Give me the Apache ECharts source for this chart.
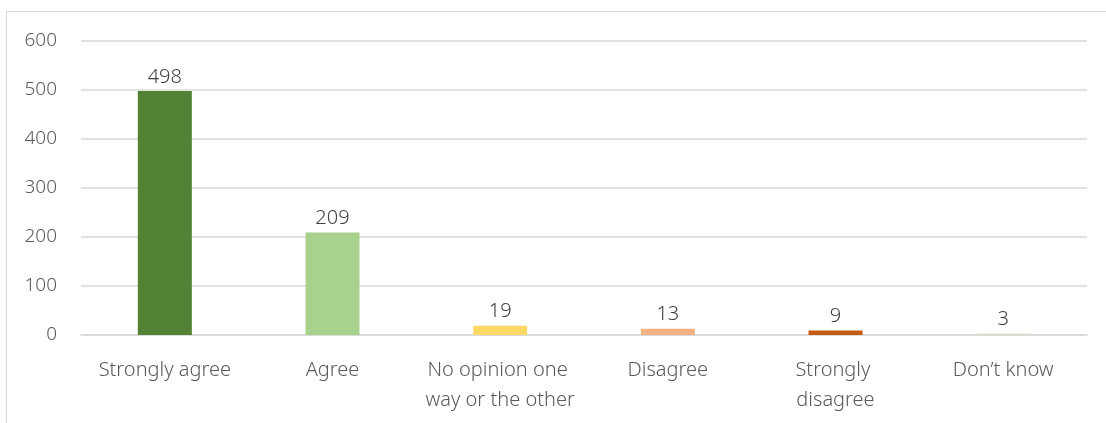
<!DOCTYPE html>
<html><head><meta charset="utf-8">
<script src="https://cdn.jsdelivr.net/npm/echarts@6/dist/echarts.min.js"></script>
<style>
html,body{margin:0;padding:0;background:#fff;}
#frame{position:absolute;left:6px;top:11px;width:1200px;height:500px;border-left:1.5px solid #d9d9d9;border-top:1.5px solid #d9d9d9;}
#c{position:absolute;left:0;top:0;width:1106px;height:423px;}
</style></head>
<body>
<div id="frame"></div>
<div id="c"></div>
<script>
const categories = ["Strongly agree", "Agree", "No opinion one way or the other", "Disagree", "Strongly disagree", "Don\u2019t know"];
const values = [498, 209, 19, 13, 9, 3];
const barColors = ["#548235", "#a9d18e", "#ffd966", "#f4b183", "#c55a11", "#e2dfcc"];
const yTicks = [0, 100, 200, 300, 400, 500, 600];

const chart = echarts.init(document.getElementById('c'));
const font = '"Source Sans Pro", "Noto Sans", sans-serif';
chart.setOption({
  animation: false,
  grid: { left: 81, right: 19, top: 41, bottom: 88, containLabel: false, outerBoundsMode: 'none' },
  xAxis: {
    type: 'category',
    data: categories,
    axisLine: { show: true, lineStyle: { color: '#d9d9d9', width: 1.5 } },
    axisTick: { show: false },
    axisLabel: {
      interval: 0, color: '#595959', fontSize: 20, fontFamily: font, fontWeight: 300,
      margin: 20, lineHeight: 30, width: 154, overflow: 'break'
    }
  },
  yAxis: {
    type: 'value', min: 0, max: 600, interval: 100,
    axisLine: { show: false }, axisTick: { show: false },
    splitLine: { lineStyle: { color: '#d9d9d9', width: 1.5 } },
    axisLabel: {
      color: '#595959', fontSize: 19, fontFamily: font, fontWeight: 300, margin: 24,
      formatter: v => yTicks.includes(v) ? String(v) : ''
    }
  },
  series: [{
    type: 'bar',
    barWidth: 54,
    data: values.map((v, i) => ({ value: v, itemStyle: { color: barColors[i] } })),
    label: {
      show: true, position: 'top', distance: 4,
      color: '#404040', fontSize: 20, fontFamily: font, fontWeight: 300
    }
  }]
});
</script>
</body></html>
